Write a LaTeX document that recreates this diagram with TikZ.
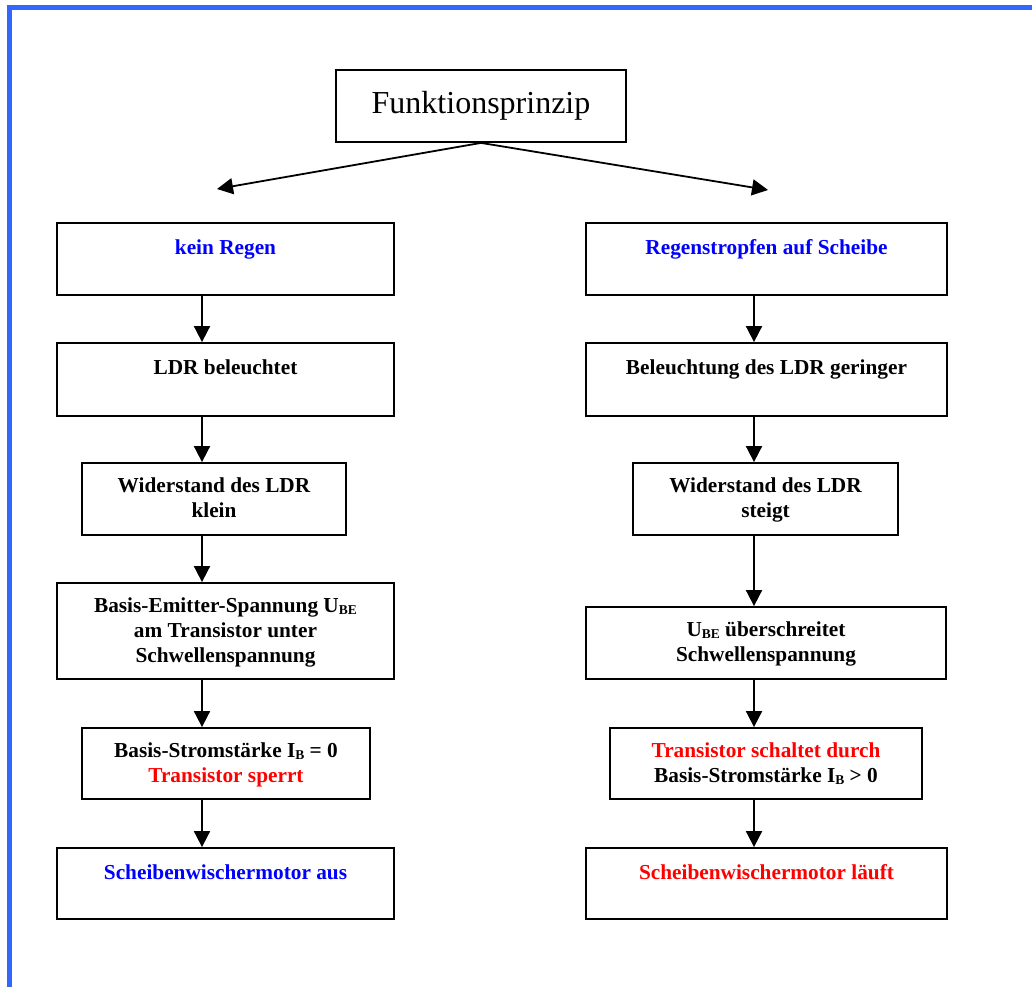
\documentclass[tikz,border=0pt]{standalone}
\usepackage{fontspec}
\setmainfont{Liberation Serif}
\usetikzlibrary{arrows.meta}
\definecolor{frameblue}{HTML}{3366FF}
\definecolor{txtblue}{HTML}{0000FF}
\definecolor{txtred}{HTML}{FF0000}
\newcommand{\lowsub}[1]{\raisebox{-2.5pt}{\fontsize{13.5}{14}\selectfont #1}}
\begin{document}
\begin{tikzpicture}[x=1pt,y=-1pt,
  box/.style={draw,line width=1.8pt,inner sep=0pt},
  txt/.style={anchor=north,inner sep=0pt,align=center,
    font=\fontsize{21.3}{25}\selectfont\bfseries,
    execute at begin node=\strut},
  arr/.style={line width=1.8pt,-{Triangle[width=16pt,length=16pt]}}]
\useasboundingbox (0,0) rectangle (1032,987);
\fill[white] (0,0) rectangle (1032,987);
% blue frame
\fill[frameblue] (7,5) rectangle (1032,10);
\fill[frameblue] (7,5) rectangle (12,987);

% top box
\node[box,minimum width=290pt,minimum height=72pt,
  font=\fontsize{32}{38}\selectfont] (T) at (481,106) {Funktionsprinzip};

% left column
\node[box,minimum width=337pt,minimum height=72pt] (L1) at (225.5,259) {};
\node[box,minimum width=337pt,minimum height=73pt] (L2) at (225.5,379.5) {};
\node[box,minimum width=264pt,minimum height=72pt] (L3) at (214,499) {};
\node[box,minimum width=337pt,minimum height=96pt] (L4) at (225.5,631) {};
\node[box,minimum width=288pt,minimum height=71pt] (L5) at (226,763.5) {};
\node[box,minimum width=337pt,minimum height=71pt] (L6) at (225.5,883.5) {};

% right column
\node[box,minimum width=361pt,minimum height=72pt] (R1) at (766.5,259) {};
\node[box,minimum width=361pt,minimum height=73pt] (R2) at (766.5,379.5) {};
\node[box,minimum width=265pt,minimum height=72pt] (R3) at (765.5,499) {};
\node[box,minimum width=360pt,minimum height=72pt] (R4) at (766,643) {};
\node[box,minimum width=312pt,minimum height=71pt] (R5) at (766,763.5) {};
\node[box,minimum width=361pt,minimum height=71pt] (R6) at (766.5,883.5) {};

% texts
\node[txt,text=txtblue] (L1t) at ([yshift=-15pt]L1.north) {kein Regen};
\node[txt] (L2t) at ([yshift=-15pt]L2.north) {LDR beleuchtet};
\node[txt] (L3t) at ([yshift=-15pt]L3.north) {Widerstand des LDR\\klein};
\node[txt] (L4t) at ([yshift=-15pt]L4.north) {Basis-Emitter-Spannung U\lowsub{BE}\\am Transistor unter\\Schwellenspannung};
\node[txt] (L5t) at ([yshift=-15pt]L5.north) {Basis-Stromstärke I\lowsub{B} = 0\\\textcolor{txtred}{Transistor sperrt}};
\node[txt,text=txtblue] (L6t) at ([yshift=-15pt]L6.north) {Scheibenwischermotor aus};

\node[txt,text=txtblue] (R1t) at ([yshift=-15pt]R1.north) {Regenstropfen auf Scheibe};
\node[txt] (R2t) at ([yshift=-15pt]R2.north) {Beleuchtung des LDR geringer};
\node[txt] (R3t) at ([yshift=-15pt]R3.north) {Widerstand des LDR\\steigt};
\node[txt] (R4t) at ([yshift=-15pt]R4.north) {U\lowsub{BE} überschreitet\\Schwellenspannung};
\node[txt] (R5t) at ([yshift=-15pt]R5.north) {\textcolor{txtred}{Transistor schaltet durch}\\Basis-Stromstärke I\lowsub{B} > 0};
\node[txt,text=txtred] (R6t) at ([yshift=-15pt]R6.north) {Scheibenwischermotor läuft};

% arrows
\coordinate (ax) at (202,0);
\coordinate (bx) at (754,0);
\coordinate (tl) at (217,189);
\coordinate (tr) at (768,190);
\draw[arr] (T.south) -- (tl);
\draw[arr] (T.south) -- (tr);
\draw[arr] (L1.south -| ax) -- (L2.north -| ax);
\draw[arr] (L2.south -| ax) -- (L3.north -| ax);
\draw[arr] (L3.south -| ax) -- (L4.north -| ax);
\draw[arr] (L4.south -| ax) -- (L5.north -| ax);
\draw[arr] (L5.south -| ax) -- (L6.north -| ax);
\draw[arr] (R1.south -| bx) -- (R2.north -| bx);
\draw[arr] (R2.south -| bx) -- (R3.north -| bx);
\draw[arr] (R3.south -| bx) -- (R4.north -| bx);
\draw[arr] (R4.south -| bx) -- (R5.north -| bx);
\draw[arr] (R5.south -| bx) -- (R6.north -| bx);
\end{tikzpicture}
\end{document}
